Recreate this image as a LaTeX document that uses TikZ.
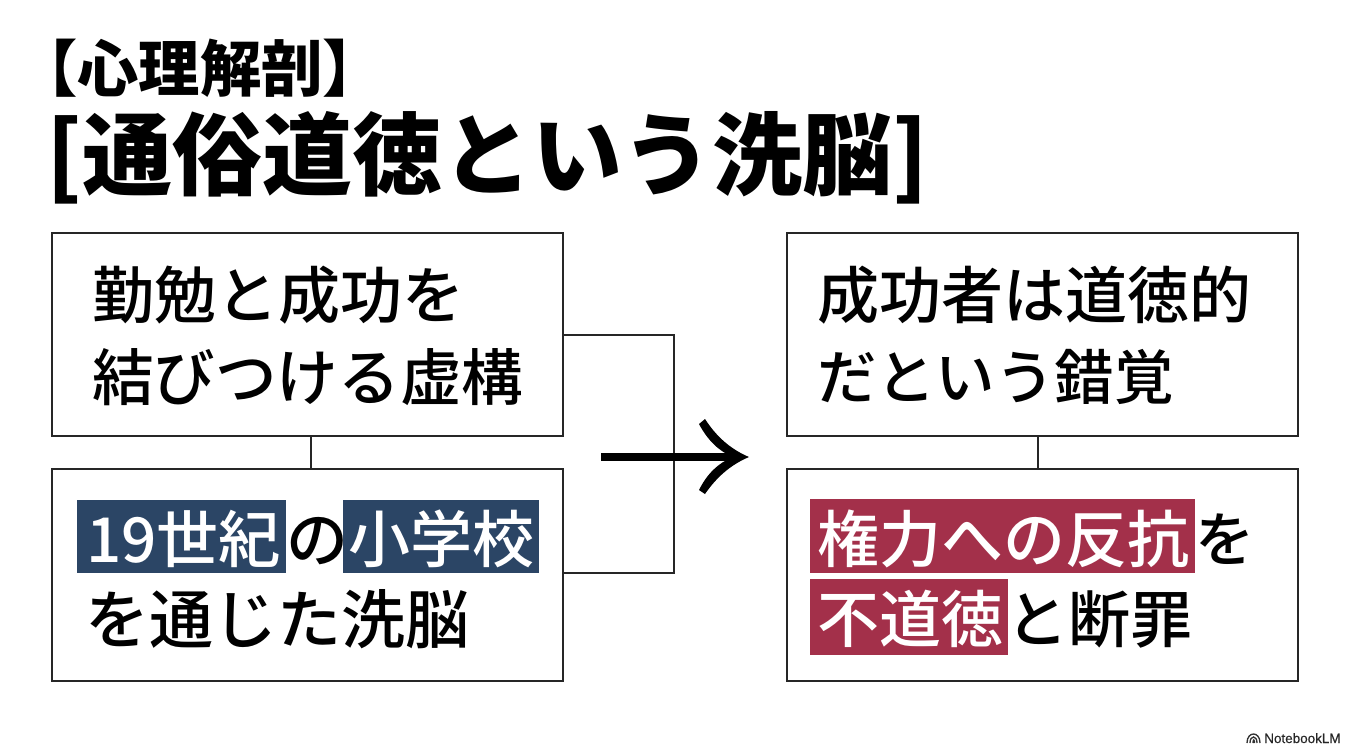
\documentclass[tikz,border=0pt]{standalone}
\usepackage{fontspec}
\setmainfont{Noto Sans CJK JP}
\newfontfamily\bodyfont{Noto Sans CJK JP Medium}
\newfontfamily\latinlogo[FakeBold=0.3]{Liberation Sans}
\usetikzlibrary{calc}
\tikzset{
  box/.style={draw=black!85,line width=1.5pt,minimum width=511*0.75pt,inner sep=0pt,fill=none},
  conn/.style={draw=black!85,line width=1.4pt},
  txt/.style={anchor=base west,inner sep=0pt,outer sep=0pt,font=\bodyfont\fontsize{46.5pt}{46.5pt}\selectfont},
  wtxt/.style={txt,text=white},
  hlblue/.style={fill=hblue,draw=none},
  hlred/.style={fill=hred,draw=none}
}
\definecolor{hblue}{HTML}{2B4565}
\definecolor{hred}{HTML}{A3304A}
\begin{document}
\begin{tikzpicture}[x=0.75pt,y=-0.75pt]
\useasboundingbox (0,0) rectangle (1350,753);
\fill[white] (0,0) rectangle (1350,753);
% titles
\node[anchor=base west,inner sep=0pt,font=\fontsize{46pt}{46pt}\selectfont\bfseries] (t1) at (16,91) {【心理解剖】};
\node[anchor=base west,inner sep=0pt,font=\fontsize{67.5pt}{67.5pt}\selectfont\bfseries] (t2) at (46,188) {[通俗道徳という洗脳]};
% boxes
\node[box,minimum height=203*0.75pt] (a) at (307.5,334.5) {};
\node[box,minimum height=212*0.75pt] (b) at (307.5,575) {};
\node[box,minimum height=203*0.75pt] (c) at (1042.5,334.5) {};
\node[box,minimum height=212*0.75pt] (d) at (1042.5,575) {};
% highlights
\fill[hlblue] (77,500) rectangle (286,573);
\fill[hlblue] (343,500) rectangle (539,573);
\fill[hlred] (810,499) rectangle (1195,573);
\fill[hlred] (810,579) rectangle (1008,655);
% texts
\node[txt] (a1) at (92,318) {勤勉と成功を};
\node[txt,font=\bodyfont\fontsize{46.2pt}{46.2pt}\selectfont] (a2) at (92,400) {結びつける虚構};
\node[wtxt] (b1) at (86,562) {19世紀};
\node[txt] (b2) at (286,562) {の};
\node[wtxt] (b3) at (348,562) {小学校};
\node[txt,font=\bodyfont\fontsize{48pt}{48pt}\selectfont] (b4) at (85,643) {を通じた洗脳};
\node[txt] (c1) at (817,318) {成功者は道徳的};
\node[txt,font=\bodyfont\fontsize{44.6pt}{44.6pt}\selectfont] (c2) at (817,399) {だという錯覚};
\node[wtxt] (d1) at (817,562) {権力への反抗};
\node[txt,font=\bodyfont\fontsize{44.5pt}{44.5pt}\selectfont] (d2) at (1195,561) {を};
\node[wtxt] (d3) at (817,642) {不道徳};
\node[txt] (d4) at (1006,642) {と断罪};
% connectors
\coordinate (la) at ($(a.south)+(3.5,0)$);
\coordinate (lb) at ($(b.north)+(3.5,0)$);
\coordinate (lc) at ($(c.south)+(-4.5,0)$);
\coordinate (ld) at ($(d.north)+(-4.5,0)$);
\draw[conn] (la) -- (lb);
\draw[conn] (lc) -- (ld);
\coordinate (ja) at (a.east |- 0,335);
\coordinate (jb) at (b.east |- 0,573);
\draw[conn] (ja) -- (674,335) -- (674,573) -- (jb);
% main arrow
\coordinate (as) at (601,457);
\coordinate (ae) at (738,457);
\draw[black,line width=5.4pt] (as) -- (ae);
\fill[black] (705,419) .. controls (716,436) and (730,449) .. (749,457) .. controls (730,465) and (716,478) .. (705,494)
  -- (699,490) .. controls (707,474) and (718,463) .. (733,457) .. controls (718,451) and (707,439) .. (699,424) -- cycle;
% logo
\begin{scope}[draw=black!80,line width=1pt]
\draw (1247,743) .. controls (1247,731) and (1260,731) .. (1260,743);
\draw (1250,743) .. controls (1250,735) and (1257,735) .. (1257,743);
\draw (1253,743) .. controls (1253,739) and (1254.5,739) .. (1254.5,743);
\end{scope}
\node[anchor=base west,inner sep=0pt,text=black!85,font=\latinlogo\fontsize{10.1pt}{10.1pt}\selectfont] (logo) at (1264,743) {NotebookLM};
\end{tikzpicture}
\end{document}
